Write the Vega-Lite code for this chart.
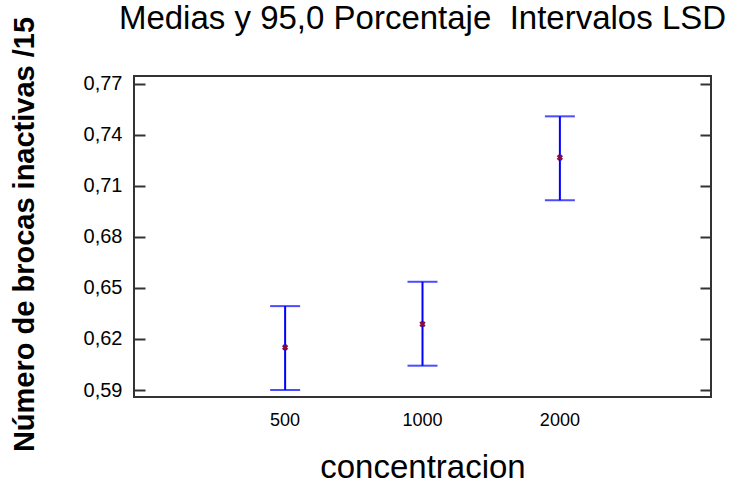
{
  "$schema": "https://vega.github.io/schema/vega-lite/v6.json",
  "autosize": {"type": "none"},
  "padding": {"left": 134, "top": 76, "right": 27, "bottom": 88},
  "width": 577,
  "height": 321,
  "background": "white",
  "title": {
    "text": "Medias y 95,0 Porcentaje\u00a0 Intervalos LSD",
    "font": "Liberation Sans",
    "fontSize": 33,
    "fontWeight": "normal",
    "color": "black",
    "anchor": "middle",
    "baseline": "alphabetic",
    "offset": -46
  },
  "data": {
    "values": [
      {"concentracion": "500", "media": 0.615, "inf": 0.590, "sup": 0.6393},
      {"concentracion": "1000", "media": 0.6287, "inf": 0.6043, "sup": 0.6536},
      {"concentracion": "2000", "media": 0.7266, "inf": 0.7015, "sup": 0.7508}
    ]
  },
  "config": {
    "view": {"stroke": "#333333", "strokeWidth": 2},
    "axis": {"labelFont": "Liberation Sans", "titleFont": "Liberation Sans", "labelColor": "black", "titleColor": "black"}
  },
  "encoding": {
    "x": {
      "field": "concentracion",
      "type": "ordinal",
      "sort": ["500", "1000", "2000"],
      "scale": {"type": "band", "paddingInner": 0.8, "paddingOuter": 1},
      "axis": {
        "title": "concentracion",
        "titleFontSize": 33,
        "titleFontWeight": "normal",
        "titleBaseline": "alphabetic",
        "titleY": 80,
        "labelAngle": 0,
        "labelFontSize": 18,
        "labelPadding": 14,
        "ticks": false,
        "tickSize": 0,
        "domain": false,
        "grid": false
      }
    }
  },
  "layer": [
    {
      "mark": {"type": "rule", "color": "#0000ff", "strokeWidth": 2},
      "encoding": {
        "y": {
          "field": "inf",
          "type": "quantitative",
          "scale": {"domain": [0.5859, 0.7745], "nice": false, "zero": false},
          "axis": {
            "orient": "left",
            "values": [0.59, 0.62, 0.65, 0.68, 0.71, 0.74, 0.77],
            "labelExpr": "replace(format(datum.value, '.2f'), '.', ',')",
            "labelFontSize": 20,
            "labelPadding": 23,
            "ticks": true,
            "tickSize": -11,
            "tickWidth": 2,
            "tickColor": "#333333",
            "domain": false,
            "grid": false,
            "title": "Número de brocas inactivas /15",
            "titleFontSize": 29,
            "titleFontWeight": "bold",
            "titleAngle": -90,
            "titleAlign": "center",
            "titleBaseline": "middle",
            "titleX": -110,
            "titleY": 158
          }
        },
        "y2": {"field": "sup"}
      }
    },
    {
      "mark": {"type": "tick", "color": "#0000ff", "thickness": 2, "size": 30},
      "encoding": {
        "y": {
          "field": "inf",
          "type": "quantitative",
          "axis": {
            "orient": "right",
            "values": [0.59, 0.62, 0.65, 0.68, 0.71, 0.74, 0.77],
            "labels": false,
            "tickSize": -11,
            "tickWidth": 2,
            "tickColor": "#333333",
            "domain": false,
            "grid": false,
            "title": null
          }
        }
      }
    },
    {
      "mark": {"type": "tick", "color": "#0000ff", "thickness": 2, "size": 30},
      "encoding": {
        "y": {"field": "sup", "type": "quantitative", "axis": null}
      }
    },
    {
      "mark": {"type": "point", "shape": "cross", "angle": 45, "filled": true, "color": "#8b0a3a", "size": 40, "opacity": 1},
      "encoding": {
        "y": {"field": "media", "type": "quantitative", "axis": null}
      }
    }
  ],
  "resolve": {"axis": {"y": "independent"}}
}
